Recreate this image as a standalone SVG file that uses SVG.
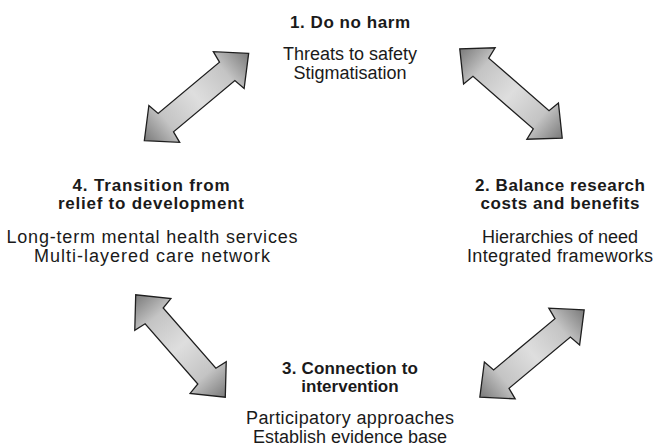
<svg xmlns="http://www.w3.org/2000/svg" width="660" height="447" viewBox="0 0 660 447">
<style>
text{font-family:"Liberation Sans",Arial,sans-serif;fill:#1a1a1a;text-anchor:middle}
.t{font-weight:bold;font-size:17px}
.b{font-size:18px}
.arr{fill:url(#g);stroke:#1e1e1e;stroke-width:1.3;stroke-linejoin:miter}
</style>
<defs>
<linearGradient id="g" gradientUnits="userSpaceOnUse" x1="-68" y1="0" x2="68" y2="0">
<stop offset="0" stop-color="#7a7a7a"/>
<stop offset="0.22" stop-color="#c4c4c4"/>
<stop offset="0.5" stop-color="#dedede"/>
<stop offset="0.78" stop-color="#c4c4c4"/>
<stop offset="1" stop-color="#7a7a7a"/>
</linearGradient>
<polygon id="arrow" class="arr" points="68,0 42,-24 40,-12 -40,-12 -42,-24 -68,0 -42,24 -40,12 40,12 42,24"/>
</defs>
<g id="connectors">
<use href="#arrow" transform="translate(196.5,97) rotate(-39.9)"/>
<use href="#arrow" transform="translate(511,93.5) rotate(41.1)"/>
<use href="#arrow" transform="translate(180.5,346) rotate(48.8)"/>
<use href="#arrow" transform="translate(532,353.5) rotate(-39.9)"/>
</g>
<g id="node1">
<text class="t" x="350" y="28" textLength="120" lengthAdjust="spacing">1. Do no harm</text>
<text class="b" x="350" y="60">Threats to safety</text>
<text class="b" x="350" y="79">Stigmatisation</text>
</g>
<g id="node2">
<text class="t" x="560" y="191" textLength="170" lengthAdjust="spacing">2. Balance research</text>
<text class="t" x="560" y="209" textLength="159" lengthAdjust="spacing">costs and benefits</text>
<text class="b" x="560" y="243">Hierarchies of need</text>
<text class="b" x="560" y="262" textLength="186" lengthAdjust="spacing">Integrated frameworks</text>
</g>
<g id="node3">
<text class="t" x="350" y="374" textLength="136" lengthAdjust="spacing">3. Connection to</text>
<text class="t" x="350" y="392">intervention</text>
<text class="b" x="350" y="424" textLength="208" lengthAdjust="spacing">Participatory approaches</text>
<text class="b" x="350" y="443">Establish evidence base</text>
</g>
<g id="node4">
<text class="t" x="151" y="191" textLength="157" lengthAdjust="spacing">4. Transition from</text>
<text class="t" x="151" y="209" textLength="186" lengthAdjust="spacing">relief to development</text>
<text class="b" x="152" y="243" textLength="291" lengthAdjust="spacing">Long-term mental health services</text>
<text class="b" x="152" y="262" textLength="236" lengthAdjust="spacing">Multi-layered care network</text>
</g>
</svg>
